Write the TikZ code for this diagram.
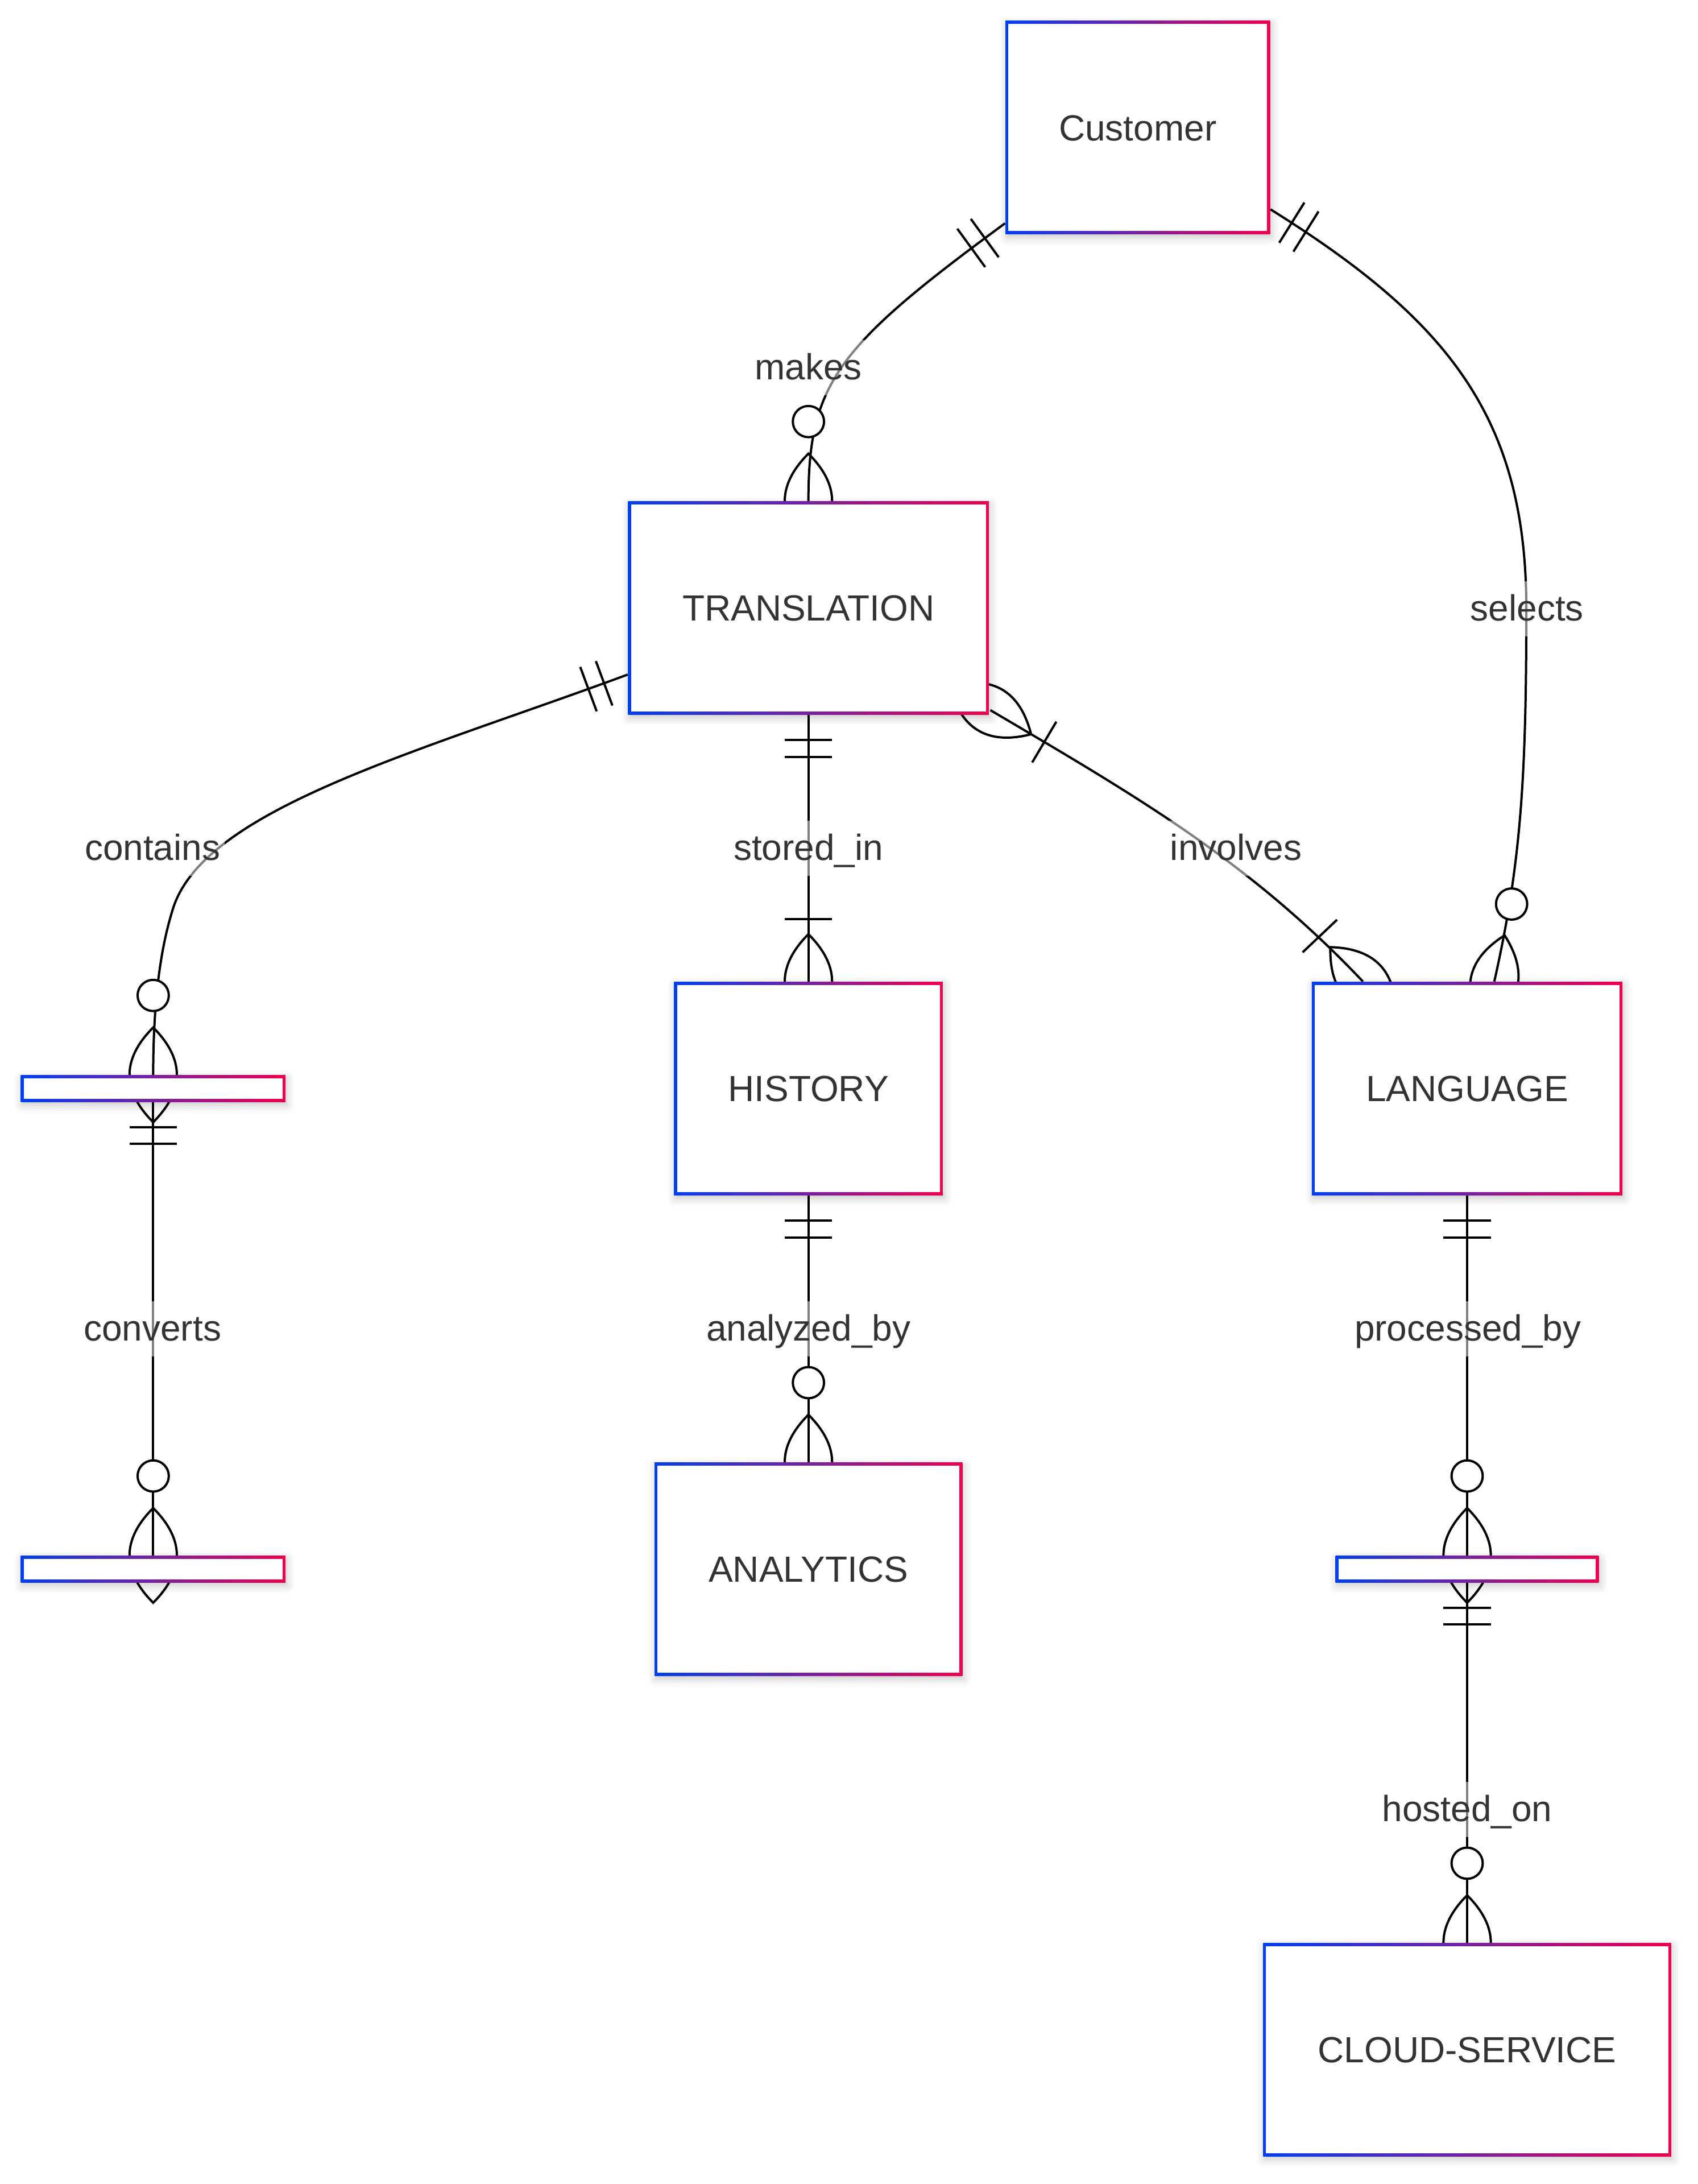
\documentclass[tikz,border=0pt]{standalone}
\usepackage{fontspec}
\setmainfont{Liberation Sans}
\usetikzlibrary{calc,shadows.blur}

\definecolor{erblue}{RGB}{0,64,240}
\definecolor{erred}{RGB}{240,0,80}
\definecolor{ertext}{HTML}{333333}

\pgfdeclarelayer{edges}
\pgfsetlayers{edges,main}

% Crow's-foot end markers; local +x points away from the entity
\newcommand\erOne[2]{\begin{scope}[shift={#1},rotate=#2]
  \draw[erline] (18,-17)--(18,17) (30,-17)--(30,17);\end{scope}}
\newcommand\erBar[2]{\begin{scope}[shift={#1},rotate=#2]
  \draw[erline] (45,-17)--(45,17);\end{scope}}
\newcommand\erCrow[2]{\begin{scope}[shift={#1},rotate=#2]
  \draw[erline] (34,0) .. controls (22.667,11.333) and (11.333,17) .. (0,17)
    .. controls (-11.333,17) and (-22.667,11.333) .. (-34,0)
    .. controls (-22.667,-11.333) and (-11.333,-17) .. (0,-17)
    .. controls (11.333,-17) and (22.667,-11.333) .. cycle;\end{scope}}
\newcommand\erZero[2]{\begin{scope}[shift={#1},rotate=#2]
  \draw[erline,fill=white] (57,0) circle[radius=11.2];\end{scope}}

\begin{document}
\begin{tikzpicture}[x=0.6124pt, y=-0.6124pt,
  erline/.style={draw=black, line width=1pt},
  ent/.style={draw=none, left color=erblue, right color=erred,
    inner sep=0pt, minimum height=153*0.6124pt,
    text=ertext, font=\fontsize{16}{19}\selectfont,
    text height=11.5pt, text depth=0pt,
    blur shadow={shadow xshift=0.6pt, shadow yshift=-1.4pt,
      shadow blur radius=3.5pt, shadow opacity=22},
    path picture={\fill[white]
      ([xshift=1.3pt,yshift=1.3pt]path picture bounding box.south west) rectangle
      ([xshift=-1.3pt,yshift=-1.3pt]path picture bounding box.north east);}},
  thin/.style={ent, minimum height=19*0.6124pt},
  lab/.style={fill=white, fill opacity=0.5, text opacity=1, text=ertext,
    font=\fontsize{16}{19}\selectfont, inner xsep=2pt, inner ysep=2.1pt,
    text height=15.3pt, text depth=4.7pt}]

\useasboundingbox (0,0) rectangle (1219,1568);

% Entities
\node[ent, minimum width=190*0.6124pt] (cust)  at (817,91.5)    {Customer};
\node[ent, minimum width=259*0.6124pt] (trans) at (580.5,436.5) {TRANSLATION};
\node[ent, minimum width=193*0.6124pt] (hist)  at (580.5,781.5) {HISTORY};
\node[ent, minimum width=223*0.6124pt] (lang)  at (1053.5,781.5) {LANGUAGE};
\node[ent, minimum width=221*0.6124pt] (anal)  at (580.5,1126.5) {ANALYTICS};
\node[ent, minimum width=293*0.6124pt] (cloud) at (1053.5,1471.5) {CLOUD-SERVICE};
\node[thin, minimum width=190*0.6124pt] (ea) at (110,781.5) {};
\node[thin, minimum width=190*0.6124pt] (eb) at (110,1126.5) {};
\node[thin, minimum width=189*0.6124pt] (ec) at (1053.5,1126.5) {};

% Attachment points away from the anchors
\coordinate (mkA) at ($(cust.south west)+(0,-8)$);
\coordinate (slA) at ($(cust.south east)+(0,-18)$);
\coordinate (slB) at ($(lang.north)+(19.5,0)$);
\coordinate (ctA) at ($(trans.south west)+(0,-29)$);
\coordinate (ivA) at ($(trans.south east)+(0.8,-3.5)$);
\coordinate (ivB) at ($(lang.north west)+(37,0)$);

\begin{pgfonlayer}{edges}
  % Relationship lines
  \draw[erline] (mkA) .. controls (601,249) and (580.5,275) .. (trans.north);
  \draw[erline] (slA) .. controls (1040,230) and (1096,300) .. (1096,437)
                      .. controls (1096,560) and (1092,620) .. (slB);
  \draw[erline] (ctA) .. controls (300,540) and (150,580) .. (125,650)
                      .. controls (115,680) and (110,720) .. (ea.north);
  \draw[erline] (trans.south) -- (hist.north);
  \draw[erline] (ivA) .. controls (814.4,570.8) and (896.2,617.6) .. (ivB);
  \draw[erline] (ea.south) -- (eb.north);
  \draw[erline] (hist.south) -- (anal.north);
  \draw[erline] (lang.south) -- (ec.north);
  \draw[erline] (ec.south) -- (cloud.north);

  % Cardinality markers
  \erOne{(mkA)}{216}
  \erCrow{(trans.north)}{90} \erZero{(trans.north)}{90}

  \erOne{(slA)}{-32}
  \erCrow{(slB)}{77.4} \erZero{(slB)}{77.4}

  \erOne{(ctA)}{200.35}
  \erCrow{(ea.north)}{90} \erZero{(ea.north)}{90}

  \erOne{(trans.south)}{-90}
  \erCrow{(hist.north)}{90} \erBar{(hist.north)}{90}

  \erCrow{(ivA)}{-30.6} \erBar{(ivA)}{-30.6}
  \erCrow{(ivB)}{133.45} \erBar{(ivB)}{133.45}

  \erOne{(ea.south)}{-90}
  \erCrow{(eb.north)}{90} \erZero{(eb.north)}{90}

  \erOne{(hist.south)}{-90}
  \erCrow{(anal.north)}{90} \erZero{(anal.north)}{90}

  \erOne{(lang.south)}{-90}
  \erCrow{(ec.north)}{90} \erZero{(ec.north)}{90}

  \erOne{(ec.south)}{-90}
  \erCrow{(cloud.north)}{90} \erZero{(cloud.north)}{90}

  % Relationship labels
  \node[lab] (lmakes)  at (580.5,264)  {makes};
  \node[lab] (lsel)    at (1096.5,437) {selects};
  \node[lab] (lcont)   at (109.5,609)  {contains};
  \node[lab] (lstore)  at (580.5,609)  {stored\_in};
  \node[lab] (linv)    at (887.5,609)  {involves};
  \node[lab] (lconv)   at (109.5,954)  {converts};
  \node[lab] (lanal)   at (580.5,954)  {analyzed\_by};
  \node[lab] (lproc)   at (1054,954)   {processed\_by};
  \node[lab] (lhost)   at (1053.5,1299) {hosted\_on};
\end{pgfonlayer}
\end{tikzpicture}
\end{document}
